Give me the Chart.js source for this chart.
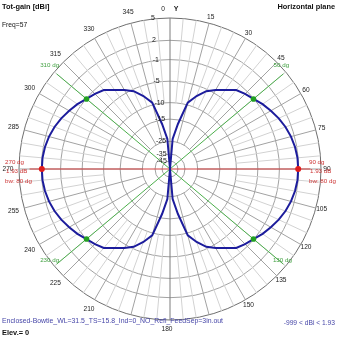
<!DOCTYPE html>
<html lang="en">
<head>
<meta charset="UTF-8" />
<title>Tot-gain [dBi] | Horizontal plane</title>
<script src="https://cdn.jsdelivr.net/npm/chart.js"></script>
<style>
  html, body { margin: 0; padding: 0; background: #fff; }
  #wrap { width: 339px; height: 339px; }
</style>
</head>
<body>
<div id="wrap"><canvas id="patternChart" width="339" height="339"></canvas></div>
<script>
// azimuth in degrees, 0 = Y axis (top), clockwise
const angles = [0, 5, 10, 15, 20, 25, 30, 35, 40, 45, 50, 55, 60, 65, 70, 75, 80, 85,
  90, 95, 100, 105, 110, 115, 120, 125, 130, 135, 140, 145, 150, 155, 160, 165, 170, 175,
  180, 185, 190, 195, 200, 205, 210, 215, 220, 225, 230, 235, 240, 245, 250, 255, 260, 265,
  270, 275, 280, 285, 290, 295, 300, 305, 310, 315, 320, 325, 330, 335, 340, 345, 350, 355];

// total gain in dBi (-999 = null)
const gainDbi = [-999, -23.5, -16.5, -9.4, -7.2, -5.4, -4.3, -3.3, -2.1, -1.55, -1.07, -0.4, 0.15, 0.7, 1.15, 1.5, 1.75, 1.9,
  1.93, 1.9, 1.75, 1.5, 1.15, 0.7, 0.15, -0.4, -1.07, -1.55, -2.1, -3.3, -4.3, -5.4, -7.2, -9.4, -16.5, -23.5,
  -999, -23.5, -16.5, -9.4, -7.2, -5.4, -4.3, -3.3, -2.1, -1.55, -1.07, -0.4, 0.15, 0.7, 1.15, 1.5, 1.75, 1.9,
  1.93, 1.9, 1.75, 1.5, 1.15, 0.7, 0.15, -0.4, -1.07, -1.55, -2.1, -3.3, -4.3, -5.4, -7.2, -9.4, -16.5, -23.5];

const ringLabels = [5, 2, -1, -5, -10, -15, -25, -35, -45];
// 165 and 195 are not printed on the original (hidden by the file name line)
const angleTickLabels = ['0', '15', '30', '45', '60', '75', '90', '105', '120', '135', '150',
  '180', '210', '225', '240', '255', '270', '285', '300', '315', '330', '345'];
const halfPowerAngles = [50, 130, 230, 310];
const maxGainAngles = [90, 270];
const maxGain = 1.93;
const beamwidth = 80;

// ARRL-like log scale, outer ring = 5 dBi
function toR(db) {
  if (db <= -100) return 0;
  const d = 5 - db;
  return Math.exp(-(0.053 * d + 0.00012 * d * d));
}

const FONT = '"Liberation Sans", Arial, sans-serif';

function seg(ctx, a, b) {
  ctx.beginPath();
  ctx.moveTo(a.x, a.y);
  ctx.lineTo(b.x, b.y);
  ctx.stroke();
}

const polarDecor = {
  id: 'polarDecor',
  beforeDatasetsDraw(chart) {
    const s = chart.scales.r;
    const ctx = chart.ctx;
    const idx = a => angles.indexOf(a);
    ctx.save();
    ctx.lineWidth = 1;
    angles.forEach((a, i) => {
      if (a % 180 === 0) return;
      const major = a % 15 === 0;
      ctx.strokeStyle = major ? '#a2a2a2' : '#d2d2d2';
      seg(ctx, s.getPointPositionForValue(i, toR(major ? -25 : -10)), s.getPointPositionForValue(i, 1));
    });
    // Y axis
    ctx.strokeStyle = '#7c7c7c';
    seg(ctx, s.getPointPositionForValue(idx(0), 1), s.getPointPositionForValue(idx(180), 1));
    // half power directions
    ctx.strokeStyle = '#4caf4c';
    seg(ctx, s.getPointPositionForValue(idx(50), 0.98), s.getPointPositionForValue(idx(230), 0.98));
    seg(ctx, s.getPointPositionForValue(idx(130), 0.98), s.getPointPositionForValue(idx(310), 0.98));
    // max gain direction
    ctx.strokeStyle = '#d03c3c';
    seg(ctx, s.getPointPositionForValue(idx(90), 0.93), s.getPointPositionForValue(idx(270), 0.93));
    ctx.restore();
  },
  afterDraw(chart) {
    const s = chart.scales.r;
    const ctx = chart.ctx;
    const cx = s.xCenter;
    const R = s.drawingArea;
    ctx.save();
    ctx.textBaseline = 'middle';

    // angle labels
    ctx.fillStyle = '#222';
    ctx.font = '6.6px ' + FONT;
    ctx.textAlign = 'center';
    angleTickLabels.forEach(lbl => {
      const a = +lbl;
      const i = angles.indexOf(a);
      const dist = (a === 0 || a === 180) ? R + 9 : (a < 180 ? R + 6 : R + 11);
      const p = s.getPointPosition(i, dist);
      ctx.fillText(lbl, a === 0 ? p.x - 7 : p.x - (a === 180 ? 3 : 0), p.y);
      if (a === 0) {
        ctx.font = 'bold 7px ' + FONT;
        ctx.fillText('Y', p.x + 6, p.y);
        ctx.font = '6.6px ' + FONT;
      }
    });

    // ring labels
    ctx.font = '7px ' + FONT;
    ctx.textAlign = 'left';
    s.ticks.forEach((t, k) => {
      if (k === 0) return;
      const r = s.getDistanceFromCenterForValue(t.value);
      ctx.fillText(String(ringLabels[k - 1]), cx - 19 + 0.04 * (R - r), s.yCenter - r);
    });

    // half power labels
    ctx.fillStyle = '#3f9f3f';
    ctx.font = '6.2px ' + FONT;
    const greenOff = { 50: [-2, -9], 130: [-1, -4], 230: [-7, -4], 310: [-7, -9] };
    halfPowerAngles.forEach(a => {
      const p = s.getPointPositionForValue(angles.indexOf(a), 0.98);
      ctx.textAlign = 'center';
      ctx.fillText(a + ' dg', p.x + greenOff[a][0], p.y + greenOff[a][1]);
    });

    // max gain labels
    ctx.fillStyle = '#cc3333';
    ctx.textAlign = 'left';
    maxGainAngles.forEach(a => {
      const x = a === 90 ? 309 : 5;
      const y = s.yCenter;
      ctx.fillText(a + ' dg', x, y - 7);
      ctx.fillText(maxGain.toFixed(2) + ' dB', x + 1, y + 2.5);
      ctx.fillText('bw: ' + beamwidth + ' dg', x, y + 12);
    });

    // header / footer texts
    ctx.fillStyle = '#111';
    ctx.font = 'bold 7.4px ' + FONT;
    ctx.textAlign = 'left';
    ctx.fillText('Tot-gain [dBi]', 2, 7);
    ctx.fillText('Elev.= 0', 2, 333);
    ctx.textAlign = 'right';
    ctx.fillText('Horizontal plane', 335, 7);
    ctx.font = '6.7px ' + FONT;
    ctx.textAlign = 'left';
    ctx.fillText('Freq=57', 2, 25);
    ctx.fillStyle = '#4646a8';
    ctx.font = '6.9px ' + FONT;
    ctx.fillText('Enclosed-Bowtie_WL=31.5_TS=15.8_Ind=0_NO_Refl_FeedSep=3in.out', 2, 321);
    ctx.font = '6.7px ' + FONT;
    ctx.textAlign = 'right';
    ctx.fillText('-999 < dBi < ' + maxGain.toFixed(2), 335, 323);
    ctx.restore();
  }
};

const radii = gainDbi.map(toR);

new Chart(document.getElementById('patternChart').getContext('2d'), {
  type: 'radar',
  data: {
    labels: angles.map(String),
    datasets: [
      {
        data: radii,
        order: 2,
        borderColor: '#1c1c9c',
        borderWidth: 2,
        backgroundColor: 'rgba(0,0,0,0)',
        fill: false,
        tension: 0,
        pointRadius: 0
      },
      {
        data: radii,
        order: 1,
        borderWidth: 0,
        borderColor: 'rgba(0,0,0,0)',
        backgroundColor: 'rgba(0,0,0,0)',
        fill: false,
        pointRadius: c => halfPowerAngles.includes(angles[c.dataIndex]) ? 2.8 : 0,
        pointBackgroundColor: '#22a022',
        pointBorderWidth: 0
      },
      {
        data: radii,
        order: 0,
        borderWidth: 0,
        borderColor: 'rgba(0,0,0,0)',
        backgroundColor: 'rgba(0,0,0,0)',
        fill: false,
        pointRadius: c => maxGainAngles.includes(angles[c.dataIndex]) ? 3 : 0,
        pointBackgroundColor: '#e01c1c',
        pointBorderWidth: 0
      }
    ]
  },
  options: {
    responsive: false,
    animation: false,
    layout: { padding: { left: 19, right: 18, top: 18, bottom: 19 } },
    plugins: { legend: { display: false }, tooltip: { enabled: false } },
    scales: {
      r: {
        min: 0,
        max: 1,
        startAngle: 0,
        angleLines: { display: false },
        pointLabels: { display: false },
        ticks: { display: false },
        afterBuildTicks: scale => {
          scale.ticks = [0].concat(ringLabels.map(toR)).map(v => ({ value: v }));
        },
        grid: {
          circular: true,
          lineWidth: 1,
          color: c => c.index === 1 ? '#6e6e6e' : '#a2a2a2'
        }
      }
    }
  },
  plugins: [polarDecor]
});
</script>
</body>
</html>
